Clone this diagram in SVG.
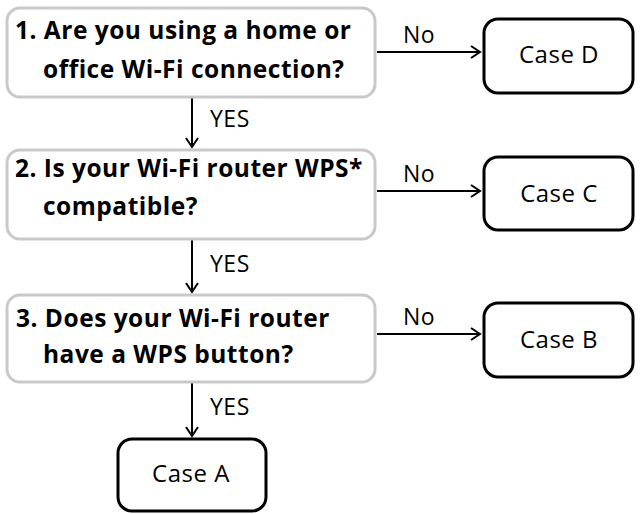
<svg xmlns="http://www.w3.org/2000/svg" width="640" height="514" viewBox="0 0 640 514">
<style>
.q{fill:#fff;stroke:#c9c9c9;stroke-width:3}
.c{fill:#fff;stroke:#000;stroke-width:3}
.qt{font-family:"Open Sans","Liberation Sans",sans-serif;font-weight:700;font-size:24.5px;letter-spacing:0.5px;fill:#000}
.ct{font-family:"Open Sans","Liberation Sans",sans-serif;font-size:24px;letter-spacing:0.5px;fill:#000;text-anchor:middle}
.lt{font-family:"Open Sans","Liberation Sans",sans-serif;font-size:23px;letter-spacing:0.5px;fill:#000}
.ln{stroke:#000;stroke-width:2;fill:none;marker-end:url(#ah)}
</style>
<defs>
<marker id="ah" markerWidth="14" markerHeight="14" refX="11" refY="7" orient="auto" markerUnits="userSpaceOnUse">
<polyline points="2,1 11,7 2,13" fill="none" stroke="#000" stroke-width="2"/>
</marker>
</defs>
<g id="connectors">
<line class="ln" x1="377" y1="52" x2="480" y2="52"/>
<line class="ln" x1="377" y1="191" x2="480" y2="191"/>
<line class="ln" x1="377" y1="334" x2="480" y2="334"/>
<line class="ln" x1="192" y1="98" x2="192" y2="147"/>
<line class="ln" x1="192" y1="240" x2="192" y2="292"/>
<line class="ln" x1="192" y1="383" x2="192" y2="436"/>
<text class="lt" x="403" y="43">No</text>
<text class="lt" x="403" y="182">No</text>
<text class="lt" x="403" y="325">No</text>
<text class="lt" x="210" y="127">YES</text>
<text class="lt" x="210" y="272">YES</text>
<text class="lt" x="210" y="415">YES</text>
</g>
<g id="q1">
<rect class="q" x="7" y="8" width="368" height="89" rx="13"/>
<text class="qt" x="15" y="39">1. Are you using a home or</text>
<text class="qt" x="43" y="78">office Wi-Fi connection?</text>
</g>
<g id="q2">
<rect class="q" x="7" y="150" width="368" height="89" rx="13"/>
<text class="qt" x="15" y="177">2. Is your Wi-Fi router WPS*</text>
<text class="qt" x="43" y="215">compatible?</text>
</g>
<g id="q3">
<rect class="q" x="7" y="295" width="368" height="87" rx="13"/>
<text class="qt" x="16" y="327">3. Does your Wi-Fi router</text>
<text class="qt" x="43" y="363">have a WPS button?</text>
</g>
<g id="caseD">
<rect class="c" x="484" y="19" width="149" height="74" rx="14"/>
<text class="ct" x="559" y="63">Case D</text>
</g>
<g id="caseC">
<rect class="c" x="484" y="157" width="149" height="73" rx="14"/>
<text class="ct" x="559" y="202">Case C</text>
</g>
<g id="caseB">
<rect class="c" x="484" y="303" width="149" height="74" rx="14"/>
<text class="ct" x="559" y="348">Case B</text>
</g>
<g id="caseA">
<rect class="c" x="118" y="439" width="148" height="72" rx="14"/>
<text class="ct" x="191" y="482">Case A</text>
</g>
</svg>
